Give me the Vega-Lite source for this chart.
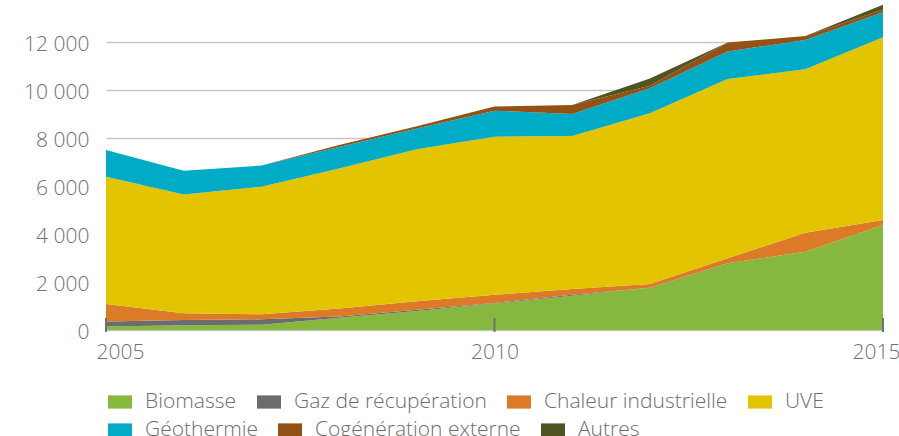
{
  "$schema": "https://vega.github.io/schema/vega-lite/v6.json",
  "width": 777,
  "height": 330,
  "autosize": {"type": "none"},
  "padding": {"left": 106, "top": 0, "right": 16, "bottom": 106},
  "background": "white",
  "config": {
    "font": "Open Sans",
    "view": {"stroke": null},
    "legend": {
      "orient": "none",
      "direction": "horizontal",
      "title": null,
      "symbolType": "M-1,-0.55L1,-0.55L1,0.55L-1,0.55Z",
      "symbolSize": 576,
      "symbolStrokeWidth": 0,
      "symbolOpacity": 1,
      "labelFontSize": 21,
      "labelColor": "#6d6d6d",
      "labelFontWeight": 300,
      "labelOffset": 13,
      "labelLimit": 400,
      "columnPadding": 20,
      "padding": 0
    }
  },
  "datasets": {
    "ordre": [
      {"source": "Biomasse", "rang": 1},
      {"source": "Gaz de récupération", "rang": 2},
      {"source": "Chaleur industrielle", "rang": 3},
      {"source": "UVE", "rang": 4},
      {"source": "Géothermie", "rang": 5},
      {"source": "Cogénération externe", "rang": 6},
      {"source": "Autres", "rang": 7}
    ],
    "energie": [
      {"annee": 2005, "source": "Biomasse", "valeur": 150},
      {"annee": 2005, "source": "Gaz de récupération", "valeur": 200},
      {"annee": 2005, "source": "Chaleur industrielle", "valeur": 735},
      {"annee": 2005, "source": "UVE", "valeur": 5305},
      {"annee": 2005, "source": "Géothermie", "valeur": 1110},
      {"annee": 2005, "source": "Cogénération externe", "valeur": 0},
      {"annee": 2005, "source": "Autres", "valeur": 0},
      {"annee": 2006, "source": "Biomasse", "valeur": 195},
      {"annee": 2006, "source": "Gaz de récupération", "valeur": 220},
      {"annee": 2006, "source": "Chaleur industrielle", "valeur": 280},
      {"annee": 2006, "source": "UVE", "valeur": 4955},
      {"annee": 2006, "source": "Géothermie", "valeur": 990},
      {"annee": 2006, "source": "Cogénération externe", "valeur": 0},
      {"annee": 2006, "source": "Autres", "valeur": 0},
      {"annee": 2007, "source": "Biomasse", "valeur": 220},
      {"annee": 2007, "source": "Gaz de récupération", "valeur": 225},
      {"annee": 2007, "source": "Chaleur industrielle", "valeur": 210},
      {"annee": 2007, "source": "UVE", "valeur": 5315},
      {"annee": 2007, "source": "Géothermie", "valeur": 880},
      {"annee": 2007, "source": "Cogénération externe", "valeur": 0},
      {"annee": 2007, "source": "Autres", "valeur": 0},
      {"annee": 2008, "source": "Biomasse", "valeur": 510},
      {"annee": 2008, "source": "Gaz de récupération", "valeur": 50},
      {"annee": 2008, "source": "Chaleur industrielle", "valeur": 335},
      {"annee": 2008, "source": "UVE", "valeur": 5830},
      {"annee": 2008, "source": "Géothermie", "valeur": 900},
      {"annee": 2008, "source": "Cogénération externe", "valeur": 80},
      {"annee": 2008, "source": "Autres", "valeur": 0},
      {"annee": 2009, "source": "Biomasse", "valeur": 790},
      {"annee": 2009, "source": "Gaz de récupération", "valeur": 50},
      {"annee": 2009, "source": "Chaleur industrielle", "valeur": 355},
      {"annee": 2009, "source": "UVE", "valeur": 6335},
      {"annee": 2009, "source": "Géothermie", "valeur": 870},
      {"annee": 2009, "source": "Cogénération externe", "valeur": 90},
      {"annee": 2009, "source": "Autres", "valeur": 0},
      {"annee": 2010, "source": "Biomasse", "valeur": 1100},
      {"annee": 2010, "source": "Gaz de récupération", "valeur": 30},
      {"annee": 2010, "source": "Chaleur industrielle", "valeur": 335},
      {"annee": 2010, "source": "UVE", "valeur": 6590},
      {"annee": 2010, "source": "Géothermie", "valeur": 1085},
      {"annee": 2010, "source": "Cogénération externe", "valeur": 170},
      {"annee": 2010, "source": "Autres", "valeur": 0},
      {"annee": 2011, "source": "Biomasse", "valeur": 1430},
      {"annee": 2011, "source": "Gaz de récupération", "valeur": 40},
      {"annee": 2011, "source": "Chaleur industrielle", "valeur": 240},
      {"annee": 2011, "source": "UVE", "valeur": 6370},
      {"annee": 2011, "source": "Géothermie", "valeur": 920},
      {"annee": 2011, "source": "Cogénération externe", "valeur": 375},
      {"annee": 2011, "source": "Autres", "valeur": 0},
      {"annee": 2012, "source": "Biomasse", "valeur": 1765},
      {"annee": 2012, "source": "Gaz de récupération", "valeur": 0},
      {"annee": 2012, "source": "Chaleur industrielle", "valeur": 150},
      {"annee": 2012, "source": "UVE", "valeur": 7115},
      {"annee": 2012, "source": "Géothermie", "valeur": 1040},
      {"annee": 2012, "source": "Cogénération externe", "valeur": 110},
      {"annee": 2012, "source": "Autres", "valeur": 300},
      {"annee": 2013, "source": "Biomasse", "valeur": 2780},
      {"annee": 2013, "source": "Gaz de récupération", "valeur": 0},
      {"annee": 2013, "source": "Chaleur industrielle", "valeur": 210},
      {"annee": 2013, "source": "UVE", "valeur": 7465},
      {"annee": 2013, "source": "Géothermie", "valeur": 1150},
      {"annee": 2013, "source": "Cogénération externe", "valeur": 370},
      {"annee": 2013, "source": "Autres", "valeur": 0},
      {"annee": 2014, "source": "Biomasse", "valeur": 3265},
      {"annee": 2014, "source": "Gaz de récupération", "valeur": 0},
      {"annee": 2014, "source": "Chaleur industrielle", "valeur": 790},
      {"annee": 2014, "source": "UVE", "valeur": 6805},
      {"annee": 2014, "source": "Géothermie", "valeur": 1225},
      {"annee": 2014, "source": "Cogénération externe", "valeur": 165},
      {"annee": 2014, "source": "Autres", "valeur": 0},
      {"annee": 2015, "source": "Biomasse", "valeur": 4375},
      {"annee": 2015, "source": "Gaz de récupération", "valeur": 0},
      {"annee": 2015, "source": "Chaleur industrielle", "valeur": 210},
      {"annee": 2015, "source": "UVE", "valeur": 7615},
      {"annee": 2015, "source": "Géothermie", "valeur": 1040},
      {"annee": 2015, "source": "Cogénération externe", "valeur": 110},
      {"annee": 2015, "source": "Autres", "valeur": 200}
    ],
    "graduations": [
      {"annee": 2005},
      {"annee": 2010},
      {"annee": 2015}
    ]
  },
  "resolve": {"scale": {"color": "independent"}, "legend": {"color": "independent"}},
  "layer": [
    {
      "data": {"name": "energie"},
      "transform": [
        {"lookup": "source", "from": {"data": {"name": "ordre"}, "key": "source", "fields": ["rang"]}}
      ],
      "mark": {"type": "area", "interpolate": "linear"},
      "encoding": {
        "x": {
          "field": "annee",
          "type": "quantitative",
          "scale": {"domain": [2005, 2015], "nice": false, "zero": false},
          "axis": {
            "title": null,
            "values": [2005, 2010, 2015],
            "format": "d",
            "ticks": false,
            "tickSize": 0,
            "domain": false,
            "grid": false,
            "labelPadding": 11,
            "labelFontSize": 21,
            "labelColor": "#707070",
            "labelFontWeight": 300,
            "labelFlush": false,
            "labelOverlap": false,
            "labelBound": false,
            "labelOffset": {"condition": [{"test": "datum.value == 2005", "value": 14}, {"test": "datum.value == 2015", "value": -7}], "value": 0},
            "zindex": 1
          }
        },
        "y": {
          "field": "valeur",
          "type": "quantitative",
          "stack": "zero",
          "scale": {"domain": [0, 13750], "nice": false},
          "axis": {
            "title": null,
            "values": [0, 2000, 4000, 6000, 8000, 10000, 12000],
            "labelExpr": "replace(format(datum.value, ','), ',', ' ')",
            "grid": true,
            "gridColor": "#c6c6c6",
            "gridWidth": 1.5,
            "ticks": false,
            "tickSize": 0,
            "domain": false,
            "labelPadding": 17,
            "labelFontSize": 21,
            "labelColor": "#707070",
            "labelFontWeight": 300,
            "labelOffset": 2,
            "zindex": 0
          }
        },
        "color": {
          "field": "source",
          "type": "nominal",
          "scale": {
            "domain": ["Biomasse", "Gaz de récupération", "Chaleur industrielle", "UVE", "Géothermie", "Cogénération externe", "Autres"],
            "range": ["#86b83f", "#6b6c70", "#dc7a27", "#e2c500", "#00acc5", "#945115", "#4f5421"]
          },
          "legend": {
            "values": ["Biomasse", "Gaz de récupération", "Chaleur industrielle", "UVE"],
            "legendX": 2,
            "legendY": 390
          }
        },
        "order": {"field": "rang", "type": "quantitative", "sort": "ascending"}
      }
    },
    {
      "data": {"name": "energie"},
      "transform": [
        {"lookup": "source", "from": {"data": {"name": "ordre"}, "key": "source", "fields": ["rang"]}}
      ],
      "mark": {"type": "area", "interpolate": "linear", "opacity": 0},
      "encoding": {
        "x": {"field": "annee", "type": "quantitative", "title": null},
        "y": {"field": "valeur", "type": "quantitative", "stack": "zero", "title": null},
        "color": {
          "field": "source",
          "type": "nominal",
          "scale": {
            "domain": ["Biomasse", "Gaz de récupération", "Chaleur industrielle", "UVE", "Géothermie", "Cogénération externe", "Autres"],
            "range": ["#86b83f", "#6b6c70", "#dc7a27", "#e2c500", "#00acc5", "#945115", "#4f5421"]
          },
          "legend": {
            "values": ["Géothermie", "Cogénération externe", "Autres"],
            "legendX": 2,
            "legendY": 418
          }
        },
        "order": {"field": "rang", "type": "quantitative", "sort": "ascending"}
      }
    },
    {
      "data": {"name": "graduations"},
      "mark": {"type": "rule", "color": "#6f6f6f", "strokeWidth": 2},
      "encoding": {
        "x": {"field": "annee", "type": "quantitative", "title": null},
        "y": {"datum": -80, "type": "quantitative"},
        "y2": {"datum": 500}
      }
    }
  ]
}
